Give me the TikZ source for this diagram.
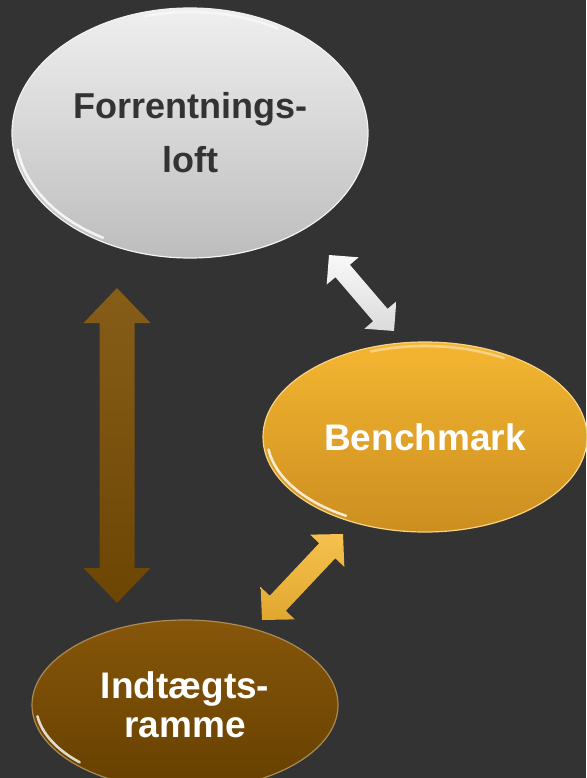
\documentclass[tikz,border=0pt]{standalone}
\usepackage{fontspec}
\setmainfont{Liberation Sans}
\usetikzlibrary{shapes.geometric,calc}
\definecolor{bg}{HTML}{333333}
\definecolor{grayTop}{HTML}{EFEFEF}
\definecolor{grayBot}{HTML}{BDBDBD}
\definecolor{goldTop}{HTML}{F4B631}
\definecolor{goldBot}{HTML}{CC8E1F}
\definecolor{brownTop}{HTML}{86560A}
\definecolor{brownBot}{HTML}{664000}
\definecolor{brownArr}{HTML}{7C4F04}
\definecolor{txtdark}{HTML}{333333}
\newcommand{\blockarr}[6]{%
  \shade[#6] (#1)
   -- ($(#1)!#5!(#2)!#4!90:(#2)$) -- ($(#1)!#5!(#2)!#3!90:(#2)$)
   -- ($(#2)!#5!(#1)!#3!-90:(#1)$) -- ($(#2)!#5!(#1)!#4!-90:(#1)$)
   -- (#2)
   -- ($(#2)!#5!(#1)!#4!90:(#1)$) -- ($(#2)!#5!(#1)!#3!90:(#1)$)
   -- ($(#1)!#5!(#2)!#3!-90:(#2)$) -- ($(#1)!#5!(#2)!#4!-90:(#2)$)
   -- cycle;}
\tikzset{
  bubble/.style={ellipse, inner sep=0pt, align=center, line width=1.2pt},
  grayell/.style={bubble, top color=grayTop, bottom color=grayBot, draw=white!90!gray, text=txtdark},
  goldell/.style={bubble, top color=goldTop, bottom color=goldBot, draw=goldTop!60!white, text=white},
  brownell/.style={bubble, top color=brownTop, bottom color=brownBot, draw=brownTop!70!white, text=white},
  gloss/.style={white, line width=2.6pt, opacity=0.8, line cap=round},
}
\begin{document}
\begin{tikzpicture}[x=1pt,y=-1pt]
\fill[bg] (0,0) rectangle (586,778);
\useasboundingbox (0,0) rectangle (586,778);

% ellipses
\node[grayell, minimum width=356pt, minimum height=250pt,
      font=\bfseries\fontsize{36}{54}\selectfont] (F) at (190,133) {Forrentnings-\\loft};
\node[goldell, minimum width=324pt, minimum height=190pt,
      font=\bfseries\fontsize{37}{44}\selectfont] (B) at (425,437) {Benchmark};
\node[brownell, minimum width=306pt, minimum height=170pt,
      font=\bfseries\fontsize{37}{39}\selectfont] (I) at (185,705) {Indtægts-\\ramme};

% gloss highlights
\draw[gloss] (F.center) ++(172:174 and 121) arc[start angle=172, end angle=120, x radius=174, y radius=121];
\draw[gloss, opacity=0.5] (F.center) ++(255:174 and 121) arc[start angle=255, end angle=300, x radius=174, y radius=121];
\draw[gloss] (B.center) ++(172:158 and 91) arc[start angle=172, end angle=120, x radius=158, y radius=91];
\draw[gloss] (I.center) ++(172:149 and 81) arc[start angle=172, end angle=135, x radius=149, y radius=81];
\draw[gloss, opacity=0.4] (B.center) ++(250:158 and 91) arc[start angle=250, end angle=300, x radius=158, y radius=91];

% arrow end points
\coordinate (bt) at (117,288);
\coordinate (bb) at (117,603);
\coordinate (wt) at (329,255);
\coordinate (wb) at (394,331);
\coordinate (gt) at (343,534);
\coordinate (gb) at (262,620);

% block arrows
\blockarr{bt}{bb}{17.5pt}{33.5pt}{35pt}{top color=brownArr!92!white, bottom color=brownArr!88!black}
\blockarr{wt}{wb}{9.5pt}{21pt}{21pt}{top color=white!95!gray, bottom color=white!72!gray}
\blockarr{gt}{gb}{11pt}{23.5pt}{23pt}{top color=goldTop!85!white, bottom color=goldTop!92!black}
\end{tikzpicture}
\end{document}
